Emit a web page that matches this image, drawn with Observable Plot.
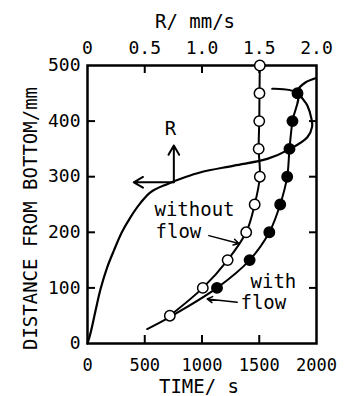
<!DOCTYPE html>
<html><head><meta charset="utf-8">
<script src="https://cdn.jsdelivr.net/npm/d3@7"></script>
<script src="https://cdn.jsdelivr.net/npm/@observablehq/plot@0.6"></script>
<style>body{margin:0;background:#fff}</style>
</head><body><div id="chart"></div>
<script>
// Open circles: without flow
const withoutFlowDist = [50, 100, 150, 200, 250, 300, 350, 400, 450, 500];
const withoutFlowTime = [719, 1007, 1224, 1386, 1460, 1505, 1495, 1500, 1502, 1505];
// Filled circles: with flow
const withFlowDist = [100, 150, 200, 250, 300, 350, 400, 450];
const withFlowTime = [1131, 1416, 1588, 1683, 1744, 1764, 1790, 1834];
// with-flow fitted line (extends below first point and hooks at the top)
const withFlowLineDist = [26, 48, 100, 150, 200, 250, 300, 350, 400, 450, 458];
const withFlowLineTime = [521, 722, 1131, 1416, 1588, 1683, 1744, 1764, 1790, 1834, 1613];
// R curve (top axis, mm/s)
const rDist  = [0, 20, 59, 98, 137, 167, 200, 227, 252, 272, 287, 299, 308, 320, 332, 350, 371, 390, 404, 428, 446, 458, 469, 477];
const rValue = [0, 0.028, 0.07, 0.114, 0.172, 0.23, 0.3, 0.375, 0.46, 0.55, 0.7, 0.85, 0.99, 1.28, 1.57, 1.77, 1.92, 1.962, 1.956, 1.92, 1.86, 1.845, 1.9, 1.99];
// axes
const timeTicks = [0, 500, 1000, 1500, 2000];
const timeInnerTicks = [500, 1000, 1500];
const rTickValues = [0, 0.5, 1.0, 1.5, 2.0];
const rTickLabels = ["0", "0.5", "1.0", "1.5", "2.0"];
const rInnerTicks = [0.5, 1.0, 1.5];
const distTicks = [0, 100, 200, 300, 400, 500];
const distInnerTicks = [100, 200, 300, 400];
const xTitle = "TIME/ s";
const topTitle = "R/ mm/s";
const yTitle = "DISTANCE FROM BOTTOM/mm";
// annotations
const labelTexts = ["without", "flow", "with", "flow"];
const labelTime = [585, 594, 1424, 1336];
const labelDist = [241, 200, 111, 73];
const rLabel = "R";
const rLabelTime = 725, rLabelDist = 386;
const arrowFromTime = [1060, 1307];
const arrowFromDist = [194, 74];
const arrowToTime = [1322, 1045];
const arrowToDist = [180, 80];
const rArrowFromTime = [754, 754];
const rArrowFromDist = [290, 290];
const rArrowToTime = [754, 404];
const rArrowToDist = [356, 290];

const W = 352, H = 396, mL = 87, mR = 36, mT = 65, mB = 53;
const plotW = W - mL - mR, plotH = H - mT - mB;
const FONT = "DejaVu Sans Mono";

const open = withoutFlowDist.map((d, i) => ({t: withoutFlowTime[i], d}));
const filled = withFlowDist.map((d, i) => ({t: withFlowTime[i], d}));
const withLine = withFlowLineDist.map((d, i) => ({t: withFlowLineTime[i], d}));
const rCurve = rDist.map((d, i) => ({r: rValue[i], d}));
const labels = labelTexts.map((s, i) => ({s, t: labelTime[i], d: labelDist[i]}));
const arrows = arrowFromTime.map((t, i) => ({t1: t, d1: arrowFromDist[i], t2: arrowToTime[i], d2: arrowToDist[i]}));
const rArrows = rArrowFromTime.map((t, i) => ({t1: t, d1: rArrowFromDist[i], t2: rArrowToTime[i], d2: rArrowToDist[i]}));
const rLabelMap = new Map(rTickValues.map((v, i) => [v * 1000, rTickLabels[i]]));

const chart = Plot.plot({
  width: W, height: H,
  marginLeft: mL, marginRight: mR, marginTop: mT, marginBottom: mB,
  style: {fontFamily: FONT, fontSize: "18px", background: "white", color: "black"},
  x: {domain: [0, 2000]},
  y: {domain: [0, 500]},
  marks: [
    // inward ticks
    Plot.tickX(timeInnerTicks, {x: d => d, insetTop: plotH - 8, strokeWidth: 2}),
    Plot.tickX(rInnerTicks, {x: d => d * 1000, insetBottom: plotH - 8, strokeWidth: 2}),
    Plot.tickY(distInnerTicks, {y: d => d, insetRight: plotW - 8, strokeWidth: 2}),
    Plot.tickY(distInnerTicks, {y: d => d, insetLeft: plotW - 7, strokeWidth: 2}),
    // axis labels
    Plot.axisX({anchor: "bottom", ticks: timeTicks, tickSize: 0, tickPadding: 15, tickFormat: "d", label: null, fontSize: 17}),
    Plot.axisX({anchor: "top", ticks: rTickValues.map(v => v * 1000), tickSize: 0, tickPadding: 12, tickFormat: d => rLabelMap.get(d), label: null}),
    Plot.axisY({anchor: "left", ticks: distTicks, tickSize: 0, tickPadding: 7, tickFormat: "d", label: null}),
    // titles
    Plot.text([topTitle], {text: d => d, frameAnchor: "top", lineAnchor: "top", dy: -51, dx: -7, fontSize: 19}),
    Plot.text([xTitle], {text: d => d, frameAnchor: "bottom", lineAnchor: "bottom", dy: 49, dx: -3, fontSize: 19}),
    Plot.text([yTitle], {text: d => d, frameAnchor: "left", textAnchor: "middle", lineAnchor: "middle", rotate: -90, dx: -57, dy: 14, fontSize: 19}),
    // curves
    Plot.line(rCurve, {x: d => d.r * 1000, y: "d", curve: "catmull-rom", strokeWidth: 2.2}),
    Plot.line(open, {x: "t", y: "d", curve: "catmull-rom", strokeWidth: 2}),
    Plot.line(withLine, {x: "t", y: "d", curve: "catmull-rom", strokeWidth: 2}),
    // annotations
    Plot.arrow(arrows, {x1: "t1", y1: "d1", x2: "t2", y2: "d2", strokeWidth: 1.5, headLength: 6}),
    Plot.arrow(rArrows, {x1: "t1", y1: "d1", x2: "t2", y2: "d2", strokeWidth: 2, headLength: 8}),
    Plot.text(labels, {x: "t", y: "d", text: "s", textAnchor: "start", fontSize: 19}),
    Plot.text([rLabel], {x: () => rLabelTime, y: () => rLabelDist, text: d => d, fontSize: 19}),
    // frame
    Plot.frame({stroke: "black", strokeWidth: 2.5}),
    // markers
    Plot.dot(open, {x: "t", y: "d", r: 5.2, fill: "white", stroke: "black", strokeWidth: 1.5}),
    Plot.dot(filled, {x: "t", y: "d", r: 5.2, fill: "black", stroke: "black", strokeWidth: 1.5})
  ]
});
document.getElementById("chart").append(chart);
</script>
</body></html>
